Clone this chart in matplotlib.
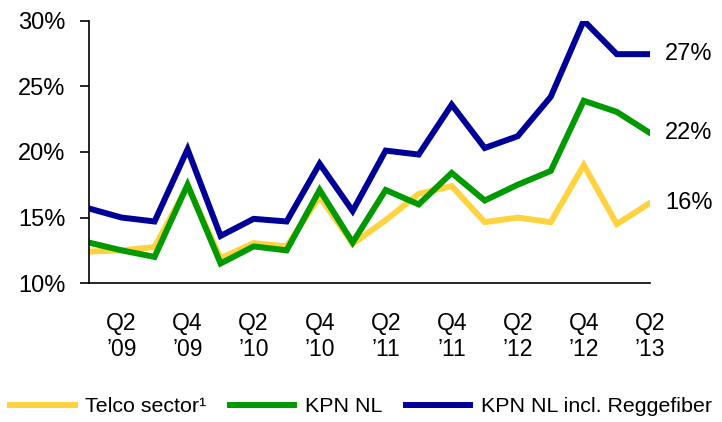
import matplotlib.pyplot as plt

plt.rcParams['font.family'] = ['Liberation Sans', 'DejaVu Sans']

# quarterly values, Q1 '09 .. Q2 '13 (percent)
quarters = list(range(18))
telco_sector = [12.4, 12.5, 12.75, 17.4, 11.9, 13.05, 12.8, 16.6, 13.0, 14.8,
                16.8, 17.4, 14.65, 15.0, 14.65, 19.0, 14.5, 16.1]
kpn_nl = [13.1, 12.5, 12.0, 17.5, 11.5, 12.8, 12.5, 17.1, 13.1, 17.1,
          16.0, 18.4, 16.3, 17.5, 18.55, 23.9, 23.05, 21.45]
kpn_nl_regge = [15.7, 15.0, 14.7, 20.2, 13.6, 14.9, 14.7, 19.1, 15.5, 20.1,
                19.8, 23.6, 20.3, 21.2, 24.2, 30.0, 27.45, 27.45]

tick_pos = [1, 3, 5, 7, 9, 11, 13, 15, 17]
tick_labels = ["Q2\n\u201909", "Q4\n\u201909", "Q2\n\u201910", "Q4\n\u201910", "Q2\n\u201911",
               "Q4\n\u201911", "Q2\n\u201912", "Q4\n\u201912", "Q2\n\u201913"]
end_labels = ["16%", "22%", "27%"]

YELLOW = "#FFD23F"
GREEN = "#009900"
BLUE = "#000099"

fig = plt.figure(figsize=(7.22, 4.22), dpi=100)
ax = fig.add_axes([0.1226, 0.329, 0.9 - 0.1226, 0.951 - 0.329])

ax.plot(quarters, telco_sector, color=YELLOW, lw=4.3, label="Telco sector\u00b9", solid_joinstyle='miter')
ax.plot(quarters, kpn_nl, color=GREEN, lw=4.3, label="KPN NL", solid_joinstyle='miter')
ax.plot(quarters, kpn_nl_regge, color=BLUE, lw=4.3, label="KPN NL incl. Reggefiber", solid_joinstyle='miter')

ax.set_xlim(0, 17)
ax.set_ylim(10, 30)
ax.set_yticks([10, 15, 20, 25, 30])
ax.set_yticklabels([f"{v}%" for v in [10, 15, 20, 25, 30]], fontsize=17)
ax.set_xticks(tick_pos)
ax.set_xticklabels(tick_labels, fontsize=16.5, linespacing=1.15)
ax.tick_params(axis='x', length=0, pad=21)
ax.tick_params(axis='y', length=6.5, width=1.2, direction='out', pad=10)

for side in ['top', 'right']:
    ax.spines[side].set_visible(False)
for side in ['left', 'bottom']:
    ax.spines[side].set_linewidth(1.2)

# values at the end of each line
for series, lab in zip([telco_sector, kpn_nl, kpn_nl_regge], end_labels):
    ax.annotate(lab, xy=(quarters[-1], series[-1]), xytext=(11, 0), textcoords='offset points',
                va='center', ha='left', fontsize=17, annotation_clip=False)

fig.legend(loc='center', bbox_to_anchor=(0.5, 1 - 407 / 422), ncol=3, frameon=False,
           fontsize=15.4, handlelength=3.0, handletextpad=0.5, columnspacing=1.1)

fig.savefig("out.png", dpi=100)
